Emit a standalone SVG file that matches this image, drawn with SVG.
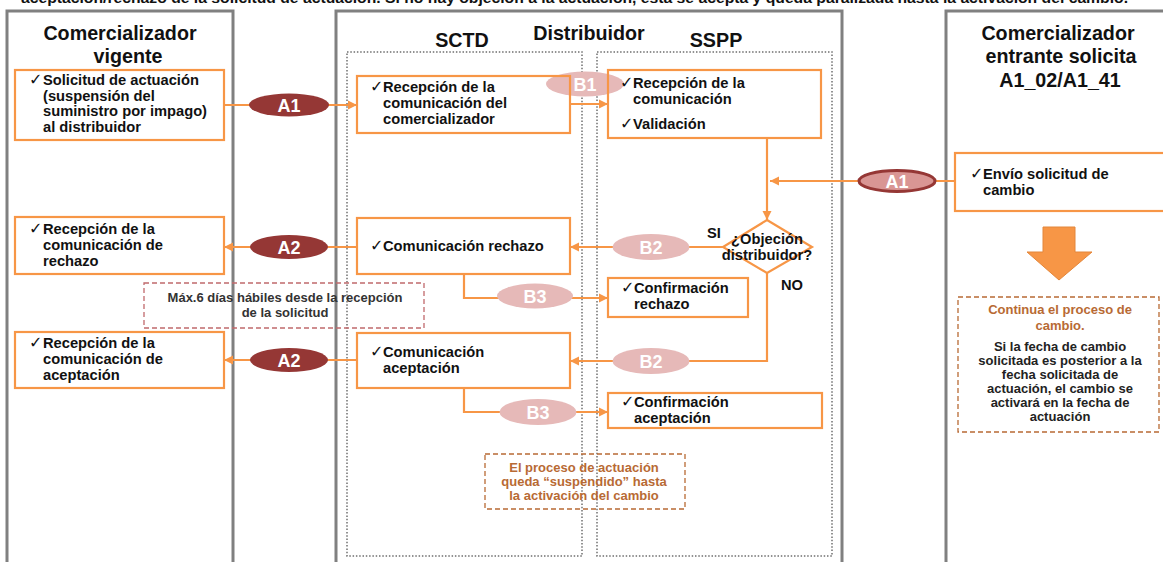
<svg xmlns="http://www.w3.org/2000/svg" width="1163" height="562" viewBox="0 0 1163 562">
<style>
.lane{fill:none;stroke:#808080;stroke-width:3}
.dot{fill:none;stroke:#6f6f6f;stroke-width:1.5;stroke-dasharray:1.5 1.8}
.box{fill:none;stroke:#F79646;stroke-width:2.2}
.con{fill:none;stroke:#F79646;stroke-width:2.2}
.t{font-family:"Liberation Sans",Arial,sans-serif;font-weight:bold;font-size:14.7px;fill:#111}
.h{font-family:"Liberation Sans",Arial,sans-serif;font-weight:bold;font-size:19.7px;fill:#111;text-anchor:middle}
.ck{font-family:"DejaVu Sans",sans-serif;font-size:16px;fill:#111}
.lbl{font-family:"Liberation Sans",Arial,sans-serif;font-weight:bold;font-size:18px;fill:#fff;text-anchor:middle}
.n{font-family:"Liberation Sans",Arial,sans-serif;font-weight:bold;font-size:13px;text-anchor:middle}
.dk{fill:#953735}
.lt{fill:#E6B9B8}
</style>
<defs>
<marker id="ah" markerUnits="userSpaceOnUse" markerWidth="10" markerHeight="10" refX="9" refY="5" orient="auto">
<path d="M0,0.5 L9,5 L0,9.5 z" fill="#F79646"/>
</marker>
</defs>
<rect width="1163" height="562" fill="#fff"/>
<text x="21" y="2.5" font-family="Liberation Sans,Arial,sans-serif" font-weight="bold" font-size="14" fill="#111" textLength="1107" lengthAdjust="spacingAndGlyphs">aceptación/rechazo de la solicitud de actuación. Si no hay objeción a la actuación, ésta se acepta y queda paralizada hasta la activación del cambio.</text>
<g id="lanes">
<rect class="lane" x="7" y="11" width="226" height="570"/>
<rect class="lane" x="336" y="11" width="506" height="570"/>
<rect class="lane" x="946" y="11" width="240" height="570"/>
<rect class="dot" x="347" y="52" width="235" height="504"/>
<rect class="dot" x="597" y="52" width="235" height="504"/>
<text class="h" x="120" y="40">Comercializador</text>
<text class="h" x="128" y="63">vigente</text>
<text class="h" x="589" y="40">Distribuidor</text>
<text class="h" x="462" y="47">SCTD</text>
<text class="h" x="716" y="47">SSPP</text>
<text class="h" x="1058" y="40">Comercializador</text>
<text class="h" x="1061" y="63">entrante solicita</text>
<text class="h" x="1060" y="87">A1_02/A1_41</text>
</g>
<g id="connectors">
<line class="con" x1="224" y1="105" x2="357" y2="105" marker-end="url(#ah)"/>
<line class="con" x1="570" y1="104" x2="608" y2="104" marker-end="url(#ah)"/>
<line class="con" x1="767" y1="138" x2="767" y2="220" marker-end="url(#ah)"/>
<line class="con" x1="955" y1="181" x2="770" y2="181" marker-end="url(#ah)"/>
<line class="con" x1="723" y1="247" x2="570" y2="247" marker-end="url(#ah)"/>
<polyline class="con" points="767,273 767,361 570,361" marker-end="url(#ah)"/>
<line class="con" x1="357" y1="247" x2="224" y2="247" marker-end="url(#ah)"/>
<line class="con" x1="357" y1="360" x2="224" y2="360" marker-end="url(#ah)"/>
<polyline class="con" points="464,274 464,298 608,298" marker-end="url(#ah)"/>
<polyline class="con" points="464,388 464,412 608,412" marker-end="url(#ah)"/>
<g id="lbl-A1a"><ellipse class="dk" cx="289" cy="105" rx="40" ry="11.5"/><text class="lbl" x="289" y="111.5">A1</text></g>
<g id="lbl-B1"><ellipse class="lt" cx="585" cy="84" rx="39" ry="12.5"/><text class="lbl" x="585" y="90.5">B1</text></g>
<g id="lbl-A1b"><ellipse cx="897" cy="181" rx="38" ry="10.5" fill="#D99694" stroke="#953735" stroke-width="3"/><text class="lbl" x="897" y="187.5">A1</text></g>
<g id="lbl-B2a"><ellipse class="lt" cx="651" cy="247" rx="38.5" ry="13"/><text class="lbl" x="651" y="253.5">B2</text></g>
<g id="lbl-B2b"><ellipse class="lt" cx="651" cy="361" rx="38.5" ry="13"/><text class="lbl" x="651" y="367.5">B2</text></g>
<g id="lbl-A2a"><ellipse class="dk" cx="289" cy="247" rx="39" ry="12"/><text class="lbl" x="289" y="253.5">A2</text></g>
<g id="lbl-A2b"><ellipse class="dk" cx="289" cy="360" rx="39" ry="12"/><text class="lbl" x="289" y="366.5">A2</text></g>
<g id="lbl-B3a"><ellipse class="lt" cx="535" cy="296" rx="38" ry="12.5"/><text class="lbl" x="535" y="302.5">B3</text></g>
<g id="lbl-B3b"><ellipse class="lt" cx="538" cy="412" rx="38.5" ry="13"/><text class="lbl" x="538" y="418.5">B3</text></g>
</g>
<g id="n-solicitud">
<rect class="box" x="15" y="70" width="209" height="70"/>
<text class="ck" x="29" y="85">✓</text>
<text class="t"><tspan x="43" y="85">Solicitud de actuación</tspan><tspan x="43" y="100.5">(suspensión del</tspan><tspan x="43" y="116">suministro por impago)</tspan><tspan x="43" y="131.5">al distribuidor</tspan></text>
</g>
<g id="n-recepcion-sctd">
<rect class="box" x="357" y="76" width="213" height="57"/>
<text class="ck" x="370" y="92">✓</text>
<text class="t"><tspan x="383" y="92">Recepción de la</tspan><tspan x="383" y="108">comunicación del</tspan><tspan x="383" y="124">comercializador</tspan></text>
</g>
<g id="n-recepcion-sspp">
<rect class="box" x="608" y="70" width="213" height="68"/>
<text class="ck" x="620" y="88">✓</text>
<text class="t"><tspan x="633" y="88">Recepción de la</tspan><tspan x="633" y="104">comunicación</tspan></text>
<text class="ck" x="620" y="129">✓</text>
<text class="t" x="633" y="129">Validación</text>
</g>
<g id="n-envio">
<rect class="box" x="955" y="153" width="215" height="58"/>
<text class="ck" x="970" y="179">✓</text>
<text class="t"><tspan x="983" y="179">Envío solicitud de</tspan><tspan x="983" y="195">cambio</tspan></text>
</g>
<g id="n-objecion">
<polygon points="767,220 812,247 767,273 723,247" fill="none" stroke="#F79646" stroke-width="2.2"/>
<text class="t" text-anchor="middle"><tspan x="767" y="244">¿Objeción</tspan><tspan x="767" y="260">distribuidor?</tspan></text>
<text class="t" x="714" y="238" text-anchor="middle">SI</text>
<text class="t" x="792" y="290" text-anchor="middle">NO</text>
</g>
<g id="n-rec-rechazo">
<rect class="box" x="15" y="217" width="209" height="57"/>
<text class="ck" x="29" y="234">✓</text>
<text class="t"><tspan x="43" y="234">Recepción de la</tspan><tspan x="43" y="250">comunicación de</tspan><tspan x="43" y="266">rechazo</tspan></text>
</g>
<g id="n-com-rechazo">
<rect class="box" x="357" y="218" width="213" height="56"/>
<text class="ck" x="370" y="251">✓</text>
<text class="t" x="383" y="251">Comunicación rechazo</text>
</g>
<g id="n-conf-rechazo">
<rect class="box" x="608" y="278" width="140" height="39"/>
<text class="ck" x="621" y="293">✓</text>
<text class="t"><tspan x="634" y="293">Confirmación</tspan><tspan x="634" y="309">rechazo</tspan></text>
</g>
<g id="n-nota-plazo">
<rect x="144" y="283" width="280" height="45" fill="none" stroke="#C0696C" stroke-width="1.3" stroke-dasharray="5 3"/>
<text class="n" fill="#333"><tspan x="285" y="302">Máx.6 días hábiles desde la recepción</tspan><tspan x="285" y="317">de la solicitud</tspan></text>
</g>
<g id="n-rec-aceptacion">
<rect class="box" x="15" y="332" width="209" height="56"/>
<text class="ck" x="29" y="348">✓</text>
<text class="t"><tspan x="43" y="348">Recepción de la</tspan><tspan x="43" y="364">comunicación de</tspan><tspan x="43" y="380">aceptación</tspan></text>
</g>
<g id="n-com-aceptacion">
<rect class="box" x="357" y="333" width="213" height="55"/>
<text class="ck" x="370" y="357">✓</text>
<text class="t"><tspan x="383" y="357">Comunicación</tspan><tspan x="383" y="373">aceptación</tspan></text>
</g>
<g id="n-conf-aceptacion">
<rect class="box" x="608" y="393" width="214" height="35"/>
<text class="ck" x="621" y="407">✓</text>
<text class="t"><tspan x="634" y="407">Confirmación</tspan><tspan x="634" y="423">aceptación</tspan></text>
</g>
<g id="n-nota-suspendido">
<rect x="485" y="454" width="200" height="55" fill="none" stroke="#B86A34" stroke-width="1.3" stroke-dasharray="5 3"/>
<text class="n" fill="#B86A34"><tspan x="584" y="472">El proceso de actuación</tspan><tspan x="584" y="486">queda “suspendido” hasta</tspan><tspan x="584" y="500">la activación del cambio</tspan></text>
</g>
<g id="n-flecha">
<polygon points="1043,227 1075,227 1075,252 1092,252 1059,280 1027,252 1043,252" fill="#F79646" stroke="#E3863A" stroke-width="1"/>
</g>
<g id="n-nota-cambio">
<rect x="958" y="297" width="201" height="135" fill="none" stroke="#B86A34" stroke-width="1.3" stroke-dasharray="5 3"/>
<text class="n" fill="#B86A34"><tspan x="1060" y="314">Continua el proceso de</tspan><tspan x="1060" y="330">cambio.</tspan></text>
<text class="n" fill="#222"><tspan x="1060" y="351">Si la fecha de cambio</tspan><tspan x="1060" y="365">solicitada es posterior a la</tspan><tspan x="1060" y="379">fecha solicitada de</tspan><tspan x="1060" y="393">actuación, el cambio se</tspan><tspan x="1060" y="407">activará en la fecha de</tspan><tspan x="1060" y="421">actuación</tspan></text>
</g>
</svg>
